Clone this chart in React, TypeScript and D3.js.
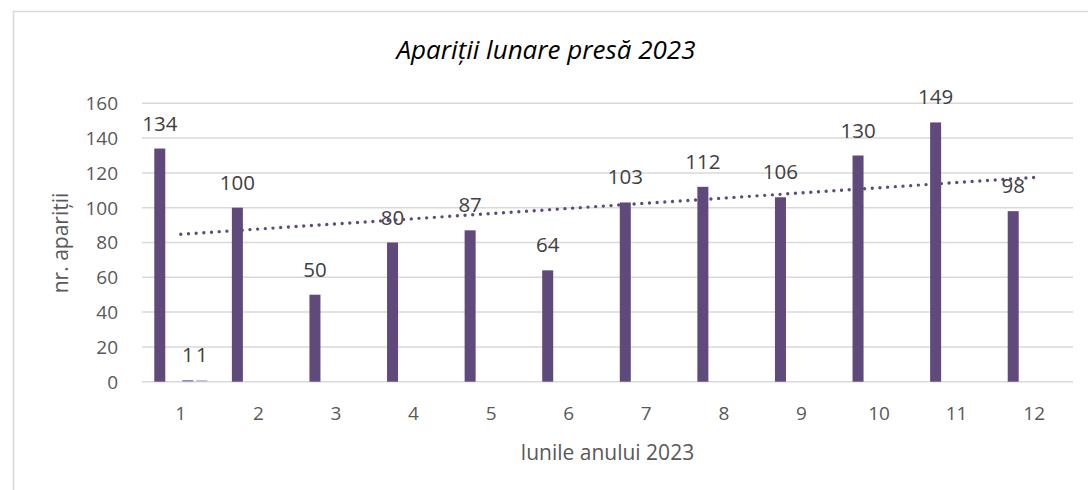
import React, { useEffect, useRef } from "react";
import * as d3 from "d3";

// date
const months = ["1", "2", "3", "4", "5", "6", "7", "8", "9", "10", "11", "12"];
const seriesNames = ["s1", "s2", "s3", "s4"];
const s1 = [134, 100, 50, 80, 87, 64, 103, 112, 106, 130, 149, 98];
const s2: (number | null)[] = [null, null, null, null, null, null, null, null, null, null, null, null];
const s3: (number | null)[] = [1, null, null, null, null, null, null, null, null, null, null, null];
const s4: (number | null)[] = [1, null, null, null, null, null, null, null, null, null, null, null];
const seriesColors = ["#5f4a7b", "#8064a2", "#9d8bbf", "#c4badc"];
const yTicks = [0, 20, 40, 60, 80, 100, 120, 140, 160];

const title = "Apariții lunare presă 2023";
const xTitle = "lunile anului 2023";
const yTitle = "nr. apariții";

const App = () => {
  const svgRef = useRef<SVGSVGElement>(null);

  useEffect(() => {
    const svg = d3.select(svgRef.current);
    svg.selectAll("*").remove();

    const width = 1088, height = 490;
    const plot = { left: 142, right: 1073, top: 103.3, bottom: 381.7 };
    const font = "'Open Sans', sans-serif";

    // cadrul graficului (taiat la dreapta si jos)
    svg.append("path")
      .attr("d", `M13.5,${height} V11.5 H${width}`)
      .attr("fill", "none")
      .attr("stroke", "#d9d9d9")
      .attr("stroke-width", 1.5);

    const x = d3.scaleBand().domain(months).range([plot.left, plot.right]).padding(0);
    const xSub = d3.scaleBand().domain(seriesNames).range([-28, 28]).paddingInner(0.214).paddingOuter(0.107);
    const y = d3.scaleLinear().domain([0, 160]).range([plot.bottom, plot.top]);

    // grila
    svg.append("g")
      .selectAll("line")
      .data(yTicks)
      .join("line")
      .attr("x1", plot.left)
      .attr("x2", plot.right)
      .attr("y1", (d) => y(d))
      .attr("y2", (d) => y(d))
      .attr("stroke", "#d9d9d9")
      .attr("stroke-width", 1.5);

    // etichete axa Y
    svg.append("g")
      .selectAll("text")
      .data(yTicks)
      .join("text")
      .attr("x", 118)
      .attr("y", (d) => y(d))
      .attr("dy", "0.36em")
      .attr("text-anchor", "end")
      .attr("font-family", font)
      .attr("font-size", 19)
      .attr("fill", "#595959")
      .text((d) => d);

    // etichete axa X
    svg.append("g")
      .selectAll("text")
      .data(months)
      .join("text")
      .attr("x", (d) => x(d)! + x.bandwidth() / 2)
      .attr("y", 420)
      .attr("text-anchor", "middle")
      .attr("font-family", font)
      .attr("font-size", 19)
      .attr("fill", "#595959")
      .text((d) => d);

    // bare
    const allSeries = [s1, s2, s3, s4];
    allSeries.forEach((vals, si) => {
      const data = months
        .map((m, i) => ({ m, v: vals[i] }))
        .filter((d) => d.v !== null && d.v !== undefined) as { m: string; v: number }[];
      const g = svg.append("g");
      g.selectAll("rect")
        .data(data)
        .join("rect")
        .attr("x", (d) => x(d.m)! + x.bandwidth() / 2 + xSub(seriesNames[si])!)
        .attr("y", (d) => y(d.v))
        .attr("width", xSub.bandwidth())
        .attr("height", (d) => y(0) - y(d.v))
        .attr("fill", seriesColors[si]);
      g.selectAll("text")
        .data(data)
        .join("text")
        .attr("x", (d) => x(d.m)! + x.bandwidth() / 2 + xSub(seriesNames[si])! + xSub.bandwidth() / 2)
        .attr("y", (d) => y(d.v) - 18)
        .attr("text-anchor", "middle")
        .attr("font-family", font)
        .attr("font-size", 20.5)
        .attr("fill", "#404040")
        .text((d) => d.v);
    });

    // linie de tendinta (regresie liniara pe seria principala)
    const pts = s1.map((v, i) => [i + 1, v]);
    const mx = d3.mean(pts, (p) => p[0])!;
    const my = d3.mean(pts, (p) => p[1])!;
    const slope = d3.sum(pts, (p) => (p[0] - mx) * (p[1] - my)) / d3.sum(pts, (p) => (p[0] - mx) ** 2);
    const trend = months.map((m, i) => ({ m, v: my + slope * (i + 1 - mx) }));
    const line = d3.line<{ m: string; v: number }>()
      .x((d) => x(d.m)! + x.bandwidth() / 2)
      .y((d) => y(d.v));
    svg.append("path")
      .datum(trend)
      .attr("d", line)
      .attr("fill", "none")
      .attr("stroke", "#5f4a7b")
      .attr("stroke-width", 3.4)
      .attr("stroke-linecap", "round")
      .attr("stroke-dasharray", "0,7.7");

    // titluri
    svg.append("text")
      .attr("x", 546)
      .attr("y", 59)
      .attr("text-anchor", "middle")
      .attr("font-family", font)
      .attr("font-style", "italic")
      .attr("font-size", 26)
      .attr("fill", "#000")
      .text(title);

    svg.append("text")
      .attr("x", (plot.left + plot.right) / 2)
      .attr("y", 460)
      .attr("text-anchor", "middle")
      .attr("font-family", font)
      .attr("font-size", 21)
      .attr("fill", "#595959")
      .text(xTitle);

    svg.append("text")
      .attr("transform", `translate(68,243) rotate(-90)`)
      .attr("text-anchor", "middle")
      .attr("font-family", font)
      .attr("font-size", 21)
      .attr("fill", "#595959")
      .text(yTitle);
  }, []);

  return (
    <svg
      ref={svgRef}
      width={1088}
      height={490}
      style={{ position: "absolute", left: 0, top: 0, background: "#fff" }}
    ></svg>
  );
};

export default App;
